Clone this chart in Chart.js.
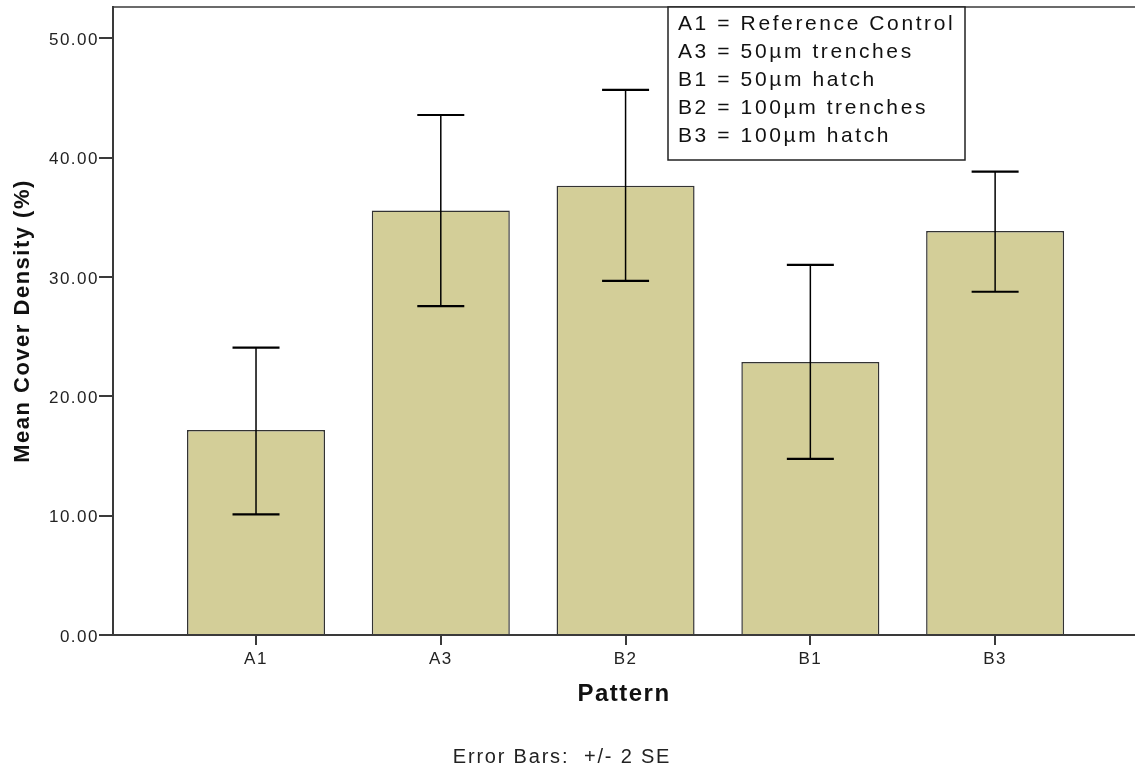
<!DOCTYPE html>
<html><head><meta charset="utf-8">
<script src="https://cdn.jsdelivr.net/npm/chart.js@4"></script>
<style>html,body{margin:0;padding:0;background:#fff;} canvas{display:block;}</style>
</head><body>
<canvas id="c" width="1135" height="771"></canvas>
<script>
const categories = ['A1', 'A3', 'B2', 'B1', 'B3'];
const meanCover = [17.18, 35.56, 37.65, 22.88, 33.85];
const errLow = [10.11, 27.56, 29.68, 14.75, 28.76];
const errHigh = [24.08, 43.57, 45.67, 31.01, 38.82];
const yTickValues = [0, 10, 20, 30, 40, 50];
const legendLines = ['A1 = Reference Control', 'A3 = 50µm trenches', 'B1 = 50µm hatch', 'B2 = 100µm trenches', 'B3 = 100µm hatch'];
const yTitle = 'Mean Cover Density (%)';
const xTitle = 'Pattern';
const footnote = 'Error Bars:  +/- 2 SE';

const FONT = "'Liberation Sans', Arial, sans-serif";
const AXIS = '#3a3a3a';

const spacingPlugin = {
  id: 'spacing',
  beforeLayout(chart) { chart.ctx.letterSpacing = '1.5px'; },
  beforeDraw(chart) { chart.ctx.letterSpacing = '1.5px'; }
};

const errorBars = {
  id: 'errorBars',
  afterDatasetsDraw(chart) {
    const { ctx, scales: { x, y } } = chart;
    ctx.save();
    ctx.strokeStyle = '#000';
    categories.forEach((c, i) => {
      const px = x.getPixelForValue(i);
      const yh = y.getPixelForValue(errHigh[i]);
      const yl = y.getPixelForValue(errLow[i]);
      ctx.lineWidth = 1.5;
      ctx.beginPath(); ctx.moveTo(px, yh); ctx.lineTo(px, yl); ctx.stroke();
      ctx.lineWidth = 2.2;
      ctx.beginPath();
      ctx.moveTo(px - 23.5, yh); ctx.lineTo(px + 23.5, yh);
      ctx.moveTo(px - 23.5, yl); ctx.lineTo(px + 23.5, yl);
      ctx.stroke();
    });
    ctx.restore();
  }
};

const annotations = {
  id: 'annotations',
  afterDraw(chart) {
    const { ctx, chartArea } = chart;
    ctx.save();
    ctx.strokeStyle = AXIS; ctx.lineWidth = 1.6;
    ctx.beginPath(); ctx.moveTo(chartArea.left, chartArea.top); ctx.lineTo(chartArea.right, chartArea.top); ctx.stroke();
    ctx.fillStyle = '#fff';
    ctx.fillRect(668, chartArea.top, 297, 153);
    ctx.strokeStyle = '#222'; ctx.lineWidth = 1.5;
    ctx.strokeRect(668, chartArea.top, 297, 153);
    ctx.fillStyle = '#111';
    ctx.font = "21px " + FONT;
    ctx.letterSpacing = '2.6px';
    ctx.textAlign = 'left'; ctx.textBaseline = 'alphabetic';
    legendLines.forEach((t, i) => ctx.fillText(t, 678, 29.5 + 28 * i));
    ctx.font = "20px " + FONT;
    ctx.letterSpacing = '1.8px';
    ctx.textAlign = 'center';
    ctx.fillStyle = '#222';
    ctx.fillText(footnote, 562, 763);
    ctx.restore();
  }
};

new Chart(document.getElementById('c'), {
  type: 'bar',
  data: {
    datasets: [{
      label: 'Mean Cover Density (%)',
      data: categories.map((c, i) => ({ x: i, y: meanCover[i] })),
      backgroundColor: '#d3ce98',
      borderColor: '#333',
      borderWidth: 1.5,
      categoryPercentage: 1,
      barPercentage: 0.747
    }]
  },
  options: {
    responsive: false,
    animation: false,
    devicePixelRatio: 1,
    layout: { padding: { top: 7, right: 0, left: 0, bottom: 0 } },
    plugins: { legend: { display: false }, tooltip: { enabled: false } },
    scales: {
      x: {
        type: 'linear',
        min: -0.774, max: 4.757,
        offset: false,
        afterBuildTicks(scale) { scale.ticks = categories.map((c, i) => ({ value: i })); },
        afterFit(scale) { scale.height = 136; scale.paddingLeft = 0; scale.paddingRight = 0; },
        grid: { offset: false, drawOnChartArea: false, drawTicks: true, tickLength: 10, color: AXIS, lineWidth: 2 },
        border: { color: AXIS, width: 2 },
        ticks: {
          callback: (v) => categories[v] ?? '',
          font: { family: FONT, size: 17 }, color: '#222', padding: 4, maxRotation: 0, autoSkip: false
        },
        title: { display: true, text: xTitle, font: { family: FONT, size: 24, weight: 'bold' }, color: '#111', padding: { top: 0, bottom: 62 } }
      },
      y: {
        min: 0, max: 52.62,
        afterBuildTicks(scale) { scale.ticks = yTickValues.map(v => ({ value: v })); },
        afterFit(scale) { scale.width = 113; scale.paddingTop = 0; scale.paddingBottom = 0; },
        grid: { drawOnChartArea: false, drawTicks: true, tickLength: 14, color: AXIS, lineWidth: 2 },
        border: { color: AXIS, width: 2 },
        ticks: {
          callback: (v) => Number(v).toFixed(2),
          font: { family: FONT, size: 17 }, color: '#222', padding: 0, labelOffset: 2
        },
        title: { display: true, text: yTitle, font: { family: FONT, size: 22, weight: 'bold' }, color: '#111', padding: { top: 10, bottom: 0 } }
      }
    }
  },
  plugins: [spacingPlugin, errorBars, annotations]
});
</script>
</body></html>
